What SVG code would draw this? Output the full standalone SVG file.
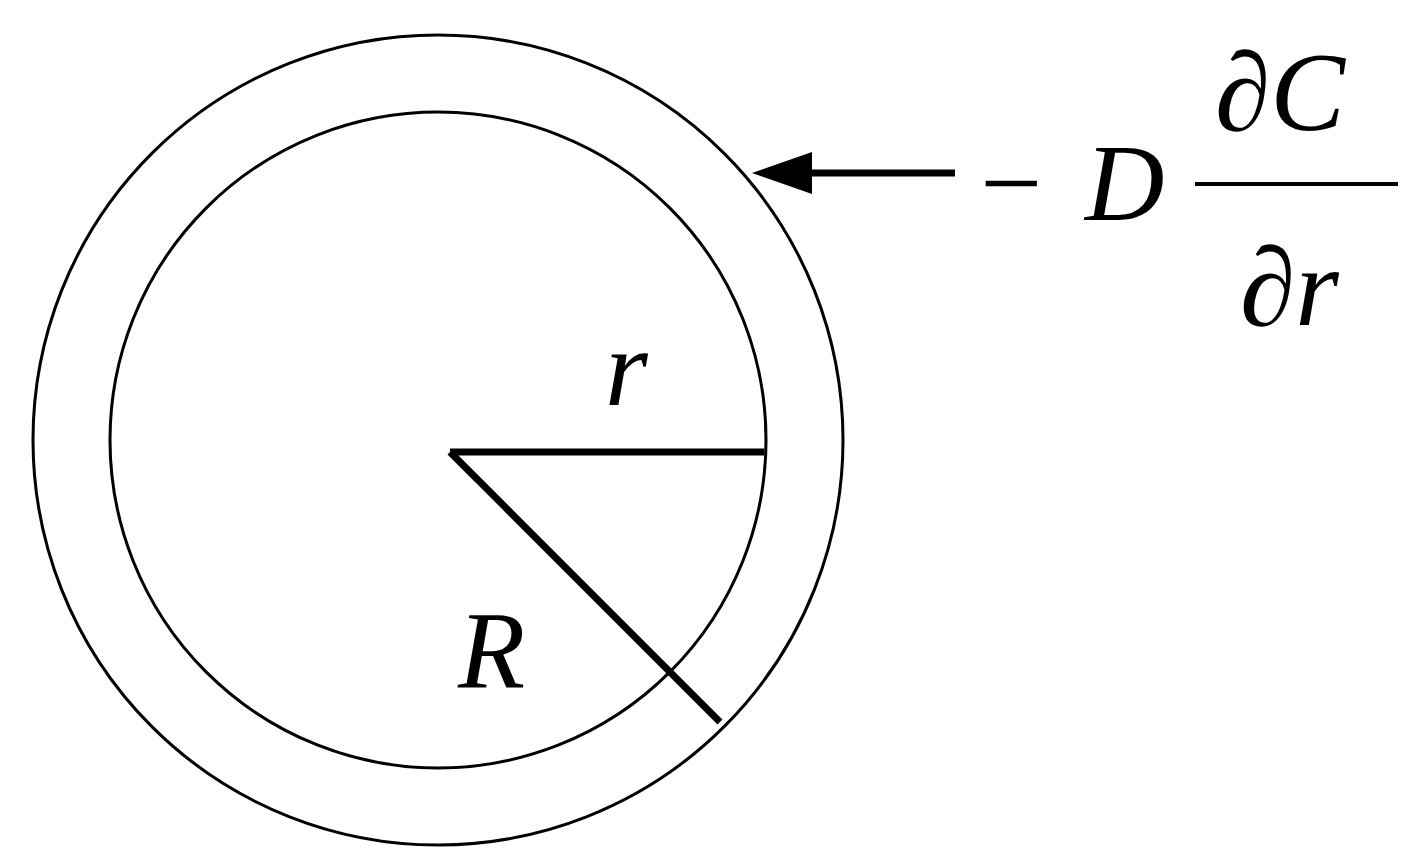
<svg xmlns="http://www.w3.org/2000/svg" width="1418" height="864" viewBox="0 0 1418 864">
<style>
.c{fill:none;stroke:#000;stroke-width:3}
.t{font-family:"Liberation Serif",serif;font-style:italic;fill:#000}
.u{font-family:"Liberation Serif",serif;fill:#000}
</style>
<defs><marker id="a" markerWidth="10" markerHeight="8" refX="9" refY="4" orient="auto" markerUnits="userSpaceOnUse" viewBox="0 0 10 8"><path d="M0,0 L10,4 L0,8z"/></marker></defs>
<rect width="1418" height="864" fill="#fff"/>
<g id="outer"><circle class="c" cx="438" cy="440" r="405"/></g>
<g id="inner"><circle class="c" cx="438" cy="440" r="328"/></g>
<g id="connectors">
<line x1="450" y1="452" x2="764" y2="452" stroke="#000" stroke-width="7"/>
<line x1="450" y1="452" x2="720" y2="722" stroke="#000" stroke-width="7"/>
<line x1="955" y1="173" x2="800" y2="173" stroke="#000" stroke-width="7"/>
<path d="M752,173 L812,152 L812,194z"/>
</g>
<g id="labels">
<text class="t" x="605" y="405" font-size="110">r</text>
<text class="t" x="458" y="688" font-size="110">R</text>
<text class="u" x="980" y="220" font-size="110">−</text>
<text class="t" x="1085" y="220" font-size="110">D</text>
<line x1="1195" y1="184" x2="1398" y2="184" stroke="#000" stroke-width="4"/>
<text class="u" x="1215" y="130" font-size="112">∂<tspan class="t">C</tspan></text>
<text class="u" x="1240" y="325" font-size="112">∂<tspan class="t">r</tspan></text>
</g>
</svg>
